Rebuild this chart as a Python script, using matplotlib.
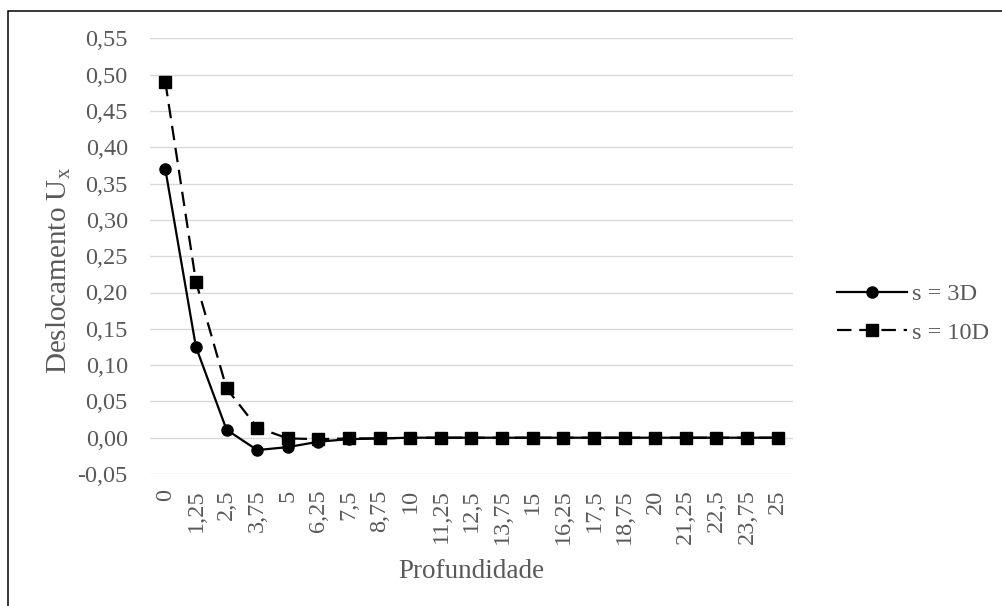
import matplotlib
matplotlib.use("Agg")
import matplotlib.pyplot as plt
from matplotlib.patches import Rectangle
from matplotlib.ticker import FuncFormatter, MultipleLocator

# Depth categories along the pile (Profundidade)
profundidade = ["0", "1,25", "2,5", "3,75", "5", "6,25", "7,5", "8,75", "10",
                "11,25", "12,5", "13,75", "15", "16,25", "17,5", "18,75",
                "20", "21,25", "22,5", "23,75", "25"]

# Horizontal displacement Ux for each spacing
ux_3d = [0.370, 0.125, 0.011, -0.017, -0.013, -0.0055, -0.002, -0.001, 0.0,
         0.0, 0.0, 0.0, 0.0, 0.0, 0.0, 0.0, 0.0, 0.0, 0.0, 0.0, 0.0]
ux_10d = [0.490, 0.215, 0.068, 0.014, -0.001, -0.002, -0.001, -0.001, 0.0,
          0.0, 0.0, 0.0, 0.0, 0.0, 0.0, 0.0, 0.0, 0.0, 0.0, 0.0, 0.0]

series_labels = ["s = 3D", "s = 10D"]

plt.rcParams["font.family"] = ["Liberation Serif", "DejaVu Serif"]
plt.rcParams["mathtext.fontset"] = "custom"
plt.rcParams["mathtext.rm"] = "Liberation Serif"
plt.rcParams["mathtext.it"] = "Liberation Serif:italic"

TEXT = "#595959"
GRID = "#d9d9d9"

fig = plt.figure(figsize=(10.03, 6.06), dpi=100)
ax = fig.add_axes([150 / 1003, 1 - 474 / 606, 643 / 1003, (474 - 38.4) / 606])

x = list(range(len(profundidade)))
ax.plot(x, ux_3d, color="black", lw=1.6, marker="o", markersize=8,
        label=series_labels[0], zorder=3)
ax.plot(x, ux_10d, color="black", lw=1.6, marker="s", markersize=8,
        dashes=(6.5, 3.5), label=series_labels[1], zorder=3)

ax.set_xlim(-0.5, len(profundidade) - 0.5)
ax.set_ylim(-0.05, 0.55)
ax.yaxis.set_major_locator(MultipleLocator(0.05))
ax.yaxis.set_major_formatter(FuncFormatter(lambda v, p: f"{v:.2f}".replace(".", ",").replace("-0,00", "0,00")))
ax.set_xticks(x)
ax.set_xticklabels(profundidade, rotation=90, va="top", ha="center")

ax.grid(axis="y", color=GRID, lw=1.0, zorder=0)
ax.set_axisbelow(True)
for s in ax.spines.values():
    s.set_visible(False)
ax.tick_params(axis="both", length=0, labelsize=17.5, labelcolor=TEXT)
ax.tick_params(axis="y", pad=16)
ax.tick_params(axis="x", pad=11)

ax.set_xlabel("Profundidade", fontsize=19.5, color=TEXT)
ax.xaxis.set_label_coords(0.5, -0.194)
ax.set_ylabel(r"Deslocamento U$_\mathrm{x}$", fontsize=21, color=TEXT)
ax.yaxis.set_label_coords(-0.119, 0.468)

leg = ax.legend(loc="center left", bbox_to_anchor=(815 / 643 - 150 / 643, 0.3685),
                frameon=False, fontsize=17.5, handlelength=2.9,
                handletextpad=0.2, labelspacing=0.67)
for t in leg.get_texts():
    t.set_color(TEXT)

# Chart frame
fig.patches.append(Rectangle((8 / 1003, -0.1), 1.2, 1.1 - 10.5 / 606,
                             transform=fig.transFigure, fill=False,
                             edgecolor="black", lw=1.1))

fig.savefig("out.png", dpi=100)
